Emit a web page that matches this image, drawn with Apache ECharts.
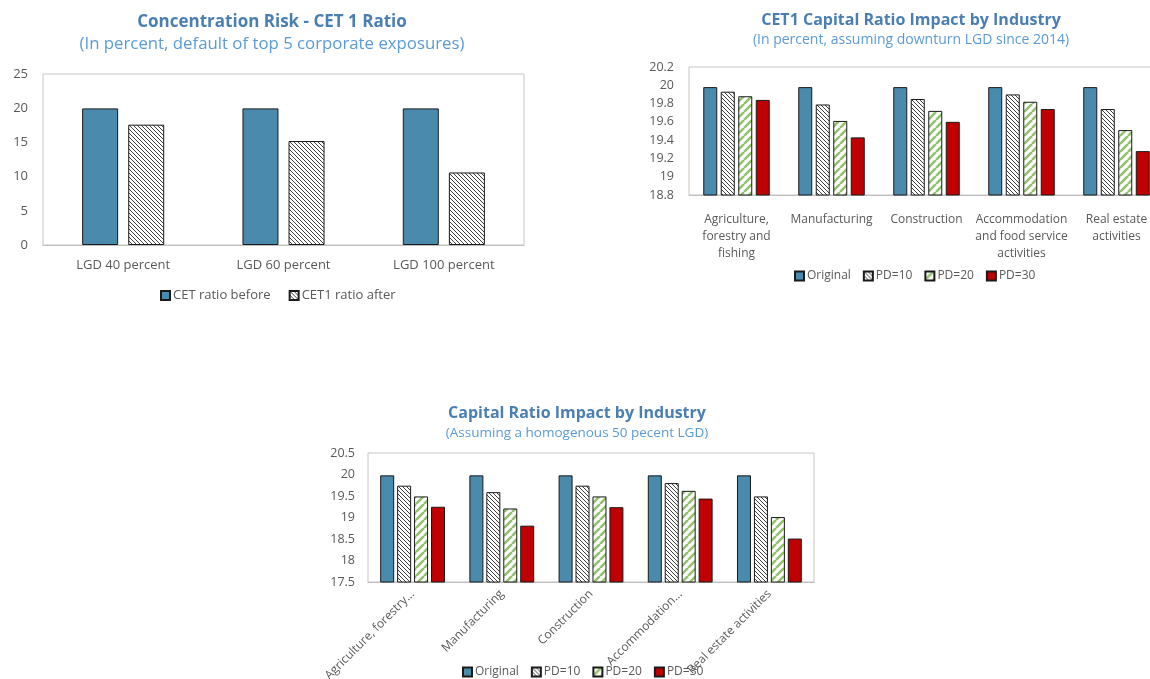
<!DOCTYPE html>
<html>
<head>
<meta charset="utf-8">
<title>Capital ratio impact</title>
<script src="https://cdn.jsdelivr.net/npm/echarts@6/dist/echarts.min.js"></script>
<style>
  html, body { margin: 0; padding: 0; background: #fff; }
  #chart { width: 1150px; height: 679px; }
</style>
</head>
<body>
<div id="chart"></div>
<script>
// concentration risk chart
const lgdCategories = ['LGD 40 percent', 'LGD 60 percent', 'LGD 100 percent']
const cetBefore = [19.97, 19.97, 19.97]
const cetAfter = [17.59, 15.2, 10.6]

// industry charts
const industryLabels = ['Agriculture,\nforestry and\nfishing', 'Manufacturing', 'Construction', 'Accommodation\nand food service\nactivities', 'Real estate\nactivities']
const industryShort = ['Agriculture, forestry...', 'Manufacturing', 'Construction', 'Accommodation...', 'Real estate activities']

// downturn LGD since 2014
const dtOriginal = [19.98, 19.98, 19.98, 19.98, 19.98]
const dtPd10 = [19.93, 19.79, 19.85, 19.9, 19.74]
const dtPd20 = [19.88, 19.61, 19.72, 19.82, 19.51]
const dtPd30 = [19.84, 19.43, 19.6, 19.74, 19.28]

// homogenous 50 percent LGD
const hgOriginal = [19.98, 19.98, 19.98, 19.98, 19.98]
const hgPd10 = [19.74, 19.59, 19.74, 19.8, 19.49]
const hgPd20 = [19.49, 19.21, 19.49, 19.62, 19.01]
const hgPd30 = [19.25, 18.81, 19.24, 19.44, 18.51]

const FONT = 'Open Sans'
const TITLE_COLOR = '#4a7fb3'
const SUB_COLOR = '#5b9bd5'
const LABEL_COLOR = '#595959'
const BLUE = '#4a8aad'
const RED = '#c00000'

// hatch patterns drawn on small canvases
function hatch(size, color, width, forward) {
  const c = document.createElement('canvas')
  c.width = size
  c.height = size
  const ctx = c.getContext('2d')
  ctx.fillStyle = '#fff'
  ctx.fillRect(0, 0, size, size)
  ctx.strokeStyle = color
  ctx.lineWidth = width
  for (let k = -size; k <= size; k += size) {
    ctx.beginPath()
    if (forward) {
      ctx.moveTo(k, size)
      ctx.lineTo(k + size, 0)
    } else {
      ctx.moveTo(k, 0)
      ctx.lineTo(k + size, size)
    }
    ctx.stroke()
  }
  return { image: c, repeat: 'repeat' }
}

const blackHatch = hatch(4, '#404040', 1, false)
const greenHatch = hatch(8, '#93c26f', 2.6, true)

function titleBlock(text, sub, x, y, size, subSize, gap) {
  return {
    text: text,
    subtext: sub,
    left: x,
    top: y,
    textAlign: 'center',
    itemGap: gap,
    padding: 0,
    textStyle: { fontFamily: FONT, fontSize: size, fontWeight: 'bold', color: TITLE_COLOR },
    subtextStyle: { fontFamily: FONT, fontSize: subSize, color: SUB_COLOR }
  }
}

function legendBlock(names, x, y, size, gap) {
  return {
    data: names,
    left: x,
    top: y,
    padding: 0,
    itemWidth: 9,
    itemHeight: 9,
    itemGap: gap,
    icon: 'rect',
    selectedMode: false,
    textStyle: { fontFamily: FONT, fontSize: size, color: LABEL_COLOR, padding: [0, 0, 0, -2] }
  }
}

function plotGrid(left, top, width, height) {
  return {
    left: left,
    top: top,
    width: width,
    height: height,
    outerBoundsMode: 'none',
    show: true,
    borderColor: '#c6c6c6',
    borderWidth: 1
  }
}

function valueAxis(gridIndex, min, max, interval, margin, size) {
  return {
    type: 'value',
    gridIndex: gridIndex,
    min: min,
    max: max,
    interval: interval,
    axisLine: { show: false },
    axisTick: { show: false },
    splitLine: { show: false },
    axisLabel: { fontFamily: FONT, fontSize: size, color: LABEL_COLOR, margin: margin }
  }
}

function categoryAxis(gridIndex, data, label) {
  return {
    type: 'category',
    gridIndex: gridIndex,
    data: data,
    axisLine: { lineStyle: { color: '#bfbfbf' } },
    axisTick: { inside: true, length: 5, lineStyle: { color: '#bfbfbf' } },
    axisLabel: Object.assign({ fontFamily: FONT, fontSize: 12, color: LABEL_COLOR, interval: 0 }, label)
  }
}

function bars(name, data, axis, color, width, gap) {
  return {
    name: name,
    type: 'bar',
    xAxisIndex: axis,
    yAxisIndex: axis,
    data: data,
    barWidth: width,
    barGap: gap,
    itemStyle: { color: color, borderColor: '#1a1a1a', borderWidth: 1 },
    silent: true,
    animation: false
  }
}

const chart = echarts.init(document.getElementById('chart'))
chart.setOption({
  backgroundColor: '#fff',
  title: [
    titleBlock('Concentration Risk - CET 1 Ratio', '(In percent, default of top 5 corporate exposures)', 272, 14, 17, 16.8, 5),
    titleBlock('CET1 Capital Ratio Impact by Industry', '(In percent, assuming downturn LGD since 2014)', 911, 12, 16, 14, 5),
    titleBlock('Capital Ratio Impact by Industry', '(Assuming a homogenous 50 pecent LGD)', 577, 405, 16, 13.5, 5)
  ],
  legend: [
    legendBlock(['CET ratio before', 'CET1 ratio after'], 160, 289, 13, 18),
    legendBlock(['Original', 'PD=10', 'PD=20', 'PD=30'], 794, 270, 12, 12),
    legendBlock(['Original', 'PD=10', 'PD=20', 'PD=30'], 462, 666, 12, 12)
  ],
  grid: [
    plotGrid(43, 74, 481, 171),
    plotGrid(689, 67, 475, 128),
    plotGrid(368, 453, 446, 129)
  ],
  xAxis: [
    categoryAxis(0, lgdCategories, { margin: 14, fontSize: 13 }),
    categoryAxis(1, industryLabels, { margin: 16, lineHeight: 17 }),
    categoryAxis(2, industryShort, { margin: 10, rotate: 45 })
  ],
  yAxis: [
    valueAxis(0, 0, 25, 5, 15, 13),
    valueAxis(1, 18.8, 20.2, 0.2, 15, 12.5),
    valueAxis(2, 17.5, 20.5, 0.5, 13, 12.5)
  ],
  series: [
    bars('CET ratio before', cetBefore, 0, BLUE, 36, '28%'),
    bars('CET1 ratio after', cetAfter, 0, blackHatch, 36, '28%'),
    bars('Original', dtOriginal, 1, BLUE, 14, '25%'),
    bars('PD=10', dtPd10, 1, blackHatch, 14, '25%'),
    bars('PD=20', dtPd20, 1, greenHatch, 14, '25%'),
    bars('PD=30', dtPd30, 1, RED, 14, '25%'),
    bars('Original', hgOriginal, 2, BLUE, 14, '21%'),
    bars('PD=10', hgPd10, 2, blackHatch, 14, '21%'),
    bars('PD=20', hgPd20, 2, greenHatch, 14, '21%'),
    bars('PD=30', hgPd30, 2, RED, 14, '21%')
  ]
})
</script>
</body>
</html>
